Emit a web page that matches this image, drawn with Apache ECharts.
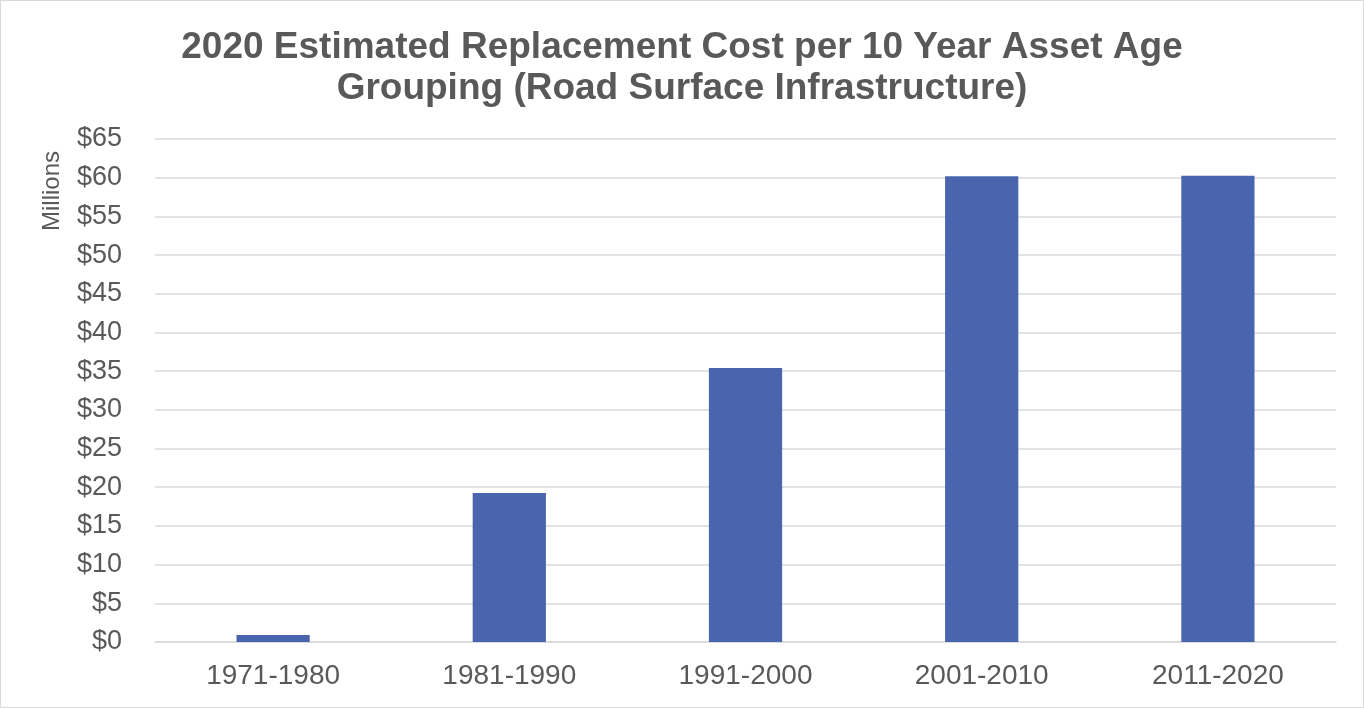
<!DOCTYPE html>
<html>
<head>
<meta charset="utf-8">
<script src="https://cdn.jsdelivr.net/npm/echarts@6/dist/echarts.min.js"></script>
<style>
html,body{margin:0;padding:0;background:#fff;}
#wrap{position:absolute;left:0;top:0;width:1362px;height:706px;border:1px solid #d9d9d9;}
#chart{width:1362px;height:706px;}
</style>
</head>
<body>
<div id="wrap"><div id="chart"></div></div>
<script>
const titleText = "2020 Estimated Replacement Cost per 10 Year Asset Age\nGrouping (Road Surface Infrastructure)";
const categories = ["1971-1980", "1981-1990", "1991-2000", "2001-2010", "2011-2020"];
const costMillions = [0.9, 19.25, 35.4, 60.2, 60.25];
const yAxisName = "Millions";
const yMin = 0, yMax = 65, yStep = 5;

const chart = echarts.init(document.getElementById('chart'));
chart.setOption({
  animation: false,
  title: {
    text: titleText,
    left: 'center',
    top: 21,
    textStyle: {
      fontFamily: 'Liberation Sans, Arial, sans-serif',
      fontSize: 37,
      fontWeight: 'bold',
      color: '#595959',
      lineHeight: 41
    }
  },
  grid: { left: 154, right: 27, top: 138, bottom: 65, containLabel: false },
  xAxis: {
    type: 'category',
    data: categories,
    axisTick: { show: false },
    axisLine: { lineStyle: { color: '#d9d9d9', width: 1.5 } },
    axisLabel: {
      color: '#595959',
      fontSize: 28,
      fontFamily: 'Liberation Sans, Arial, sans-serif',
      margin: 20
    }
  },
  yAxis: {
    type: 'value',
    min: yMin, max: yMax, interval: yStep,
    name: yAxisName,
    nameLocation: 'end',
    nameRotate: 90,
    nameGap: 0,
    nameTextStyle: {
      color: '#595959',
      fontSize: 24,
      fontFamily: 'Liberation Sans, Arial, sans-serif',
      align: 'right',
      verticalAlign: 'bottom',
      padding: [0, 12, 91, 0]
    },
    axisLine: { show: false },
    axisTick: { show: false },
    splitLine: { lineStyle: { color: '#d9d9d9', width: 1.5 } },
    axisLabel: {
      color: '#595959',
      fontSize: 27,
      fontFamily: 'Liberation Sans, Arial, sans-serif',
      margin: 33,
      formatter: v => '$' + v
    }
  },
  series: [{
    type: 'bar',
    data: costMillions,
    barWidth: '31%',
    itemStyle: { color: '#4865ad' }
  }]
});
</script>
</body>
</html>
